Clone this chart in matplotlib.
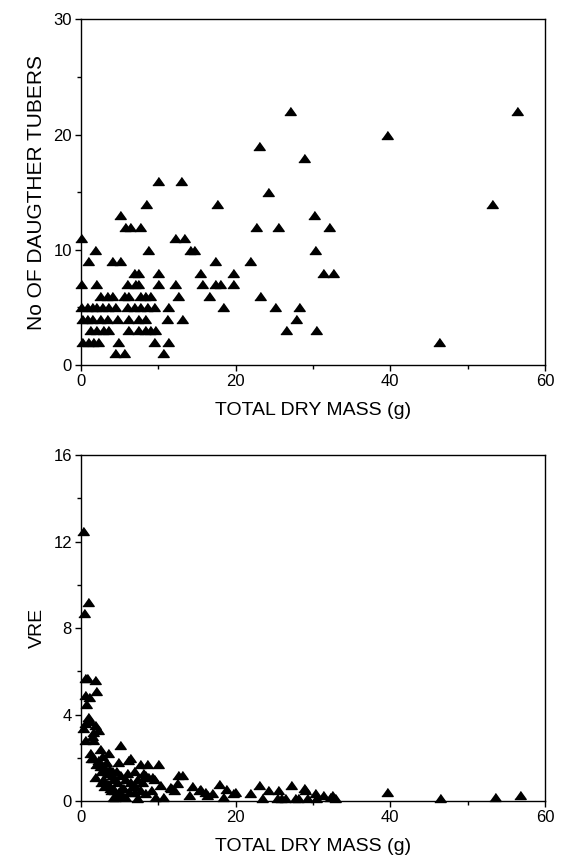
import numpy as np
import matplotlib.pyplot as plt
from matplotlib.ticker import MultipleLocator

plt.rcParams['font.family'] = ['Liberation Sans', 'DejaVu Sans']

# top panel: number of daughter tubers vs total dry mass
mass_top = [4.4, 5.5, 10.6,
            0.1, 0.95, 1.6, 2.2, 4.8, 9.4, 11.3, 46.3,
            1.2, 2.0, 2.9, 3.5, 6.1, 7.4, 8.3, 8.9, 9.6, 26.5, 30.4,
            0.1, 0.73, 1.4, 2.5, 3.3, 4.6, 6.1, 7.4, 8.3, 11.1, 13.0, 27.8,
            0.0, 0.73, 1.4, 2.0, 2.7, 3.5, 4.4, 5.9, 6.8, 7.6, 8.5, 9.4, 11.3, 18.4, 25.1, 28.2,
            2.5, 3.3, 4.0, 5.5, 6.1, 7.6, 8.3, 8.9, 12.6, 16.5, 23.1,
            0.0, 2.0, 5.9, 7.0, 7.4, 10.0, 12.2, 15.6, 17.3, 18.0, 19.7,
            6.8, 7.4, 10.0, 15.4, 19.7, 31.3, 32.6,
            0.95, 3.97, 5.05, 17.3, 21.9,
            1.8, 8.7, 14.1, 14.6, 30.2,
            0.0, 12.2, 13.3,
            5.7, 6.4, 7.6, 22.6, 25.5, 32.1,
            5.0, 30.1,
            8.4, 17.6, 53.2,
            24.2,
            9.9, 12.9,
            28.8,
            23.0,
            39.5,
            27.0, 56.4]
tubers = [1] * 3 + [2] * 8 + [3] * 11 + [4] * 12 + [5] * 16 + [6] * 11 + [7] * 11 \
    + [8] * 7 + [9] * 5 + [10] * 5 + [11] * 3 + [12] * 6 + [13] * 2 + [14] * 3 \
    + [15] + [16] * 2 + [18] + [19] + [20] + [22] * 2

# bottom panel: VRE vs total dry mass
mass_bot = [0.3, 0.95, 0.43,
            0.5, 0.8, 1.8, 0.5, 1.0, 1.9,
            0.9, 0.5, 0.3, 1.2, 1.8, 2.2, 0.5, 1.6,
            1.2, 2.5, 3.5, 5.0, 6.3, 4.8, 6.1,
            7.6, 8.5, 10.0, 8.3, 1.8, 3.3, 2.8, 3.5, 4.0, 5.7, 7.2, 8.7,
            12.6, 10.2, 11.7, 4.4, 5.7, 7.2, 8.3, 9.6, 10.6, 4.2, 5.3,
            11.5, 12.4, 13.0, 13.9, 14.3, 15.2, 15.4, 16.0, 16.3, 16.9,
            17.8, 18.4, 18.8, 19.7, 19.9, 21.9, 23.0, 23.4, 24.2, 25.3,
            25.5, 25.9, 26.4, 27.2, 27.7, 28.1, 28.8, 29.0, 29.2, 30.3,
            30.4, 31.3, 32.2, 32.4, 32.9, 12.0, 39.5, 46.4, 53.5, 56.7,
            2.2, 3.0, 4.0, 4.6, 5.2, 6.6, 7.9, 9.0, 2.6, 3.8, 6.0, 9.2,
            1.5, 2.9, 4.3, 6.8,
            1.3, 2.0, 2.7, 3.2, 3.6, 4.1, 4.5, 5.0, 5.4, 6.4, 7.0, 7.6,
            8.0, 9.5, 2.4, 3.0, 3.9, 4.8, 6.2, 6.9, 1.6, 0.7, 1.4, 2.6]
vre = [12.5, 9.2, 8.7,
       5.7, 5.7, 5.6, 4.9, 4.8, 5.1,
       3.9, 3.6, 3.4, 3.7, 3.5, 3.3, 2.8, 2.8,
       2.2, 2.4, 2.2, 2.6, 2.0, 1.8, 1.9,
       1.7, 1.7, 1.7, 1.2, 1.1, 1.3, 1.6, 0.8, 1.4, 1.0, 1.0, 1.1,
       1.2, 0.74, 0.58, 0.2, 0.2, 0.12, 0.36, 0.2, 0.2, 0.2, 0.3,
       0.64, 0.84, 1.2, 0.28, 0.7, 0.5, 0.55, 0.43, 0.3, 0.38,
       0.78, 0.2, 0.55, 0.36, 0.4, 0.36, 0.74, 0.15, 0.5, 0.15,
       0.5, 0.15, 0.15, 0.74, 0.15, 0.15, 0.6, 0.5, 0.15, 0.36,
       0.12, 0.28, 0.2, 0.28, 0.15, 0.5, 0.43, 0.12, 0.18, 0.3,
       1.9, 1.5, 1.2, 0.9, 0.6, 0.7, 0.9, 0.5, 0.9, 0.6, 1.3, 1.1,
       2.0, 1.0, 0.5, 0.4,
       2.0, 1.7, 2.1, 1.8, 1.5, 1.0, 1.4, 1.2, 0.6, 0.9, 0.7, 0.5,
       1.3, 1.0, 1.6, 0.7, 0.5, 0.4, 0.4, 1.4, 3.2, 4.5, 3.0, 1.4]

tri = [(-1, -0.7), (1, -0.7), (0, 0.7)]

fig = plt.figure(figsize=(5.68, 8.57), dpi=100)
ax1 = fig.add_axes([0.1426, 0.5741, 0.817, 0.4034])
ax2 = fig.add_axes([0.1426, 0.0653, 0.817, 0.4037])

ax1.plot(mass_top, tubers, linestyle='none', marker=tri, markersize=8.2,
         color='black', clip_on=False)
ax2.plot(mass_bot, vre, linestyle='none', marker=tri, markersize=8.2,
         color='black', clip_on=False)

ax1.set_xlim(0, 60)
ax1.set_ylim(0, 30)
ax1.yaxis.set_major_locator(MultipleLocator(10))
ax1.yaxis.set_minor_locator(MultipleLocator(5))
ax1.set_ylabel('No OF DAUGTHER TUBERS', fontsize=15, labelpad=5)

ax2.set_xlim(0, 60)
ax2.set_ylim(0, 16)
ax2.yaxis.set_major_locator(MultipleLocator(4))
ax2.yaxis.set_minor_locator(MultipleLocator(2))
ax2.set_ylabel('VRE', fontsize=14, labelpad=5)

for ax in (ax1, ax2):
    ax.xaxis.set_major_locator(MultipleLocator(20))
    ax.xaxis.set_minor_locator(MultipleLocator(10))
    ax.set_xlabel('TOTAL DRY MASS (g)', fontsize=14, labelpad=9)
    ax.tick_params(which='major', direction='out', length=4, width=1, labelsize=12, pad=2.5)
    ax.tick_params(which='minor', direction='out', length=3, width=1)
    for s in ax.spines.values():
        s.set_linewidth(1)

fig.savefig('out.png', dpi=100)
